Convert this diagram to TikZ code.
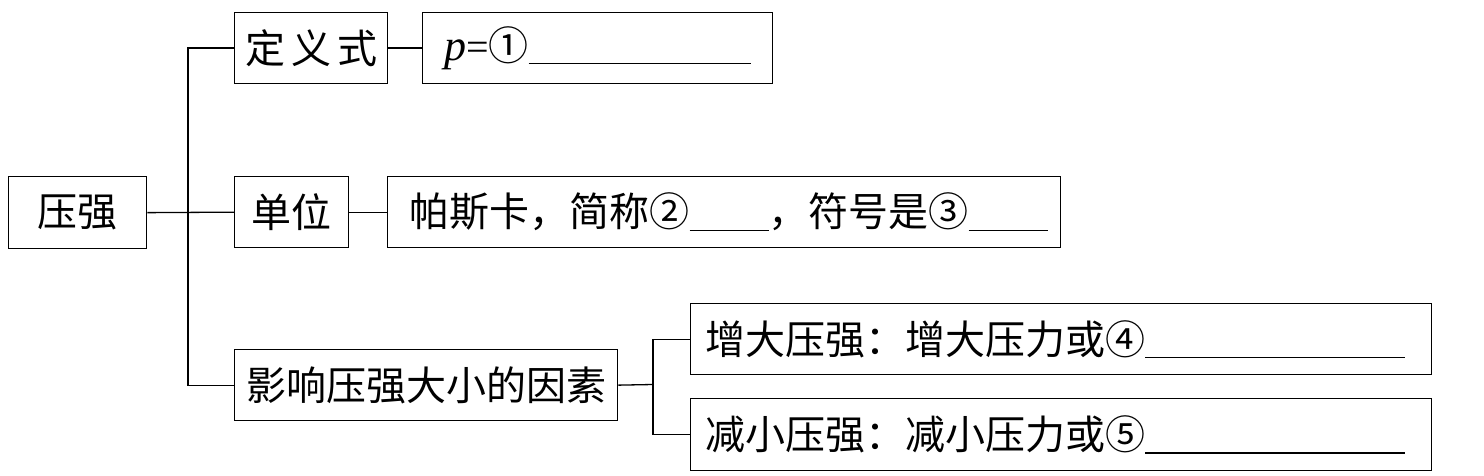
\documentclass[tikz,border=0pt]{standalone}
\usepackage{fontspec}
\newfontfamily\cjk{Noto Sans CJK SC}
\newfontfamily\tms{Liberation Serif}
\newcommand{\blankline}[1]{\rule[-4pt]{#1}{1.2pt}}
\tikzset{
  box/.style={draw, line width=1.3pt, inner sep=0pt, minimum height=71pt, anchor=north west,
    font=\cjk\fontsize{40pt}{45pt}\selectfont},
  lbox/.style={box, align=left},
  conn/.style={line width=1.3pt}
}
\begin{document}
\begin{tikzpicture}[x=1pt,y=-1pt]
\useasboundingbox (0,0) rectangle (1484,476);
\node[box, minimum width=138pt, minimum height=72pt] (yq) at (8,176) {压强};
\node[box, minimum width=153pt] (dy) at (234,12) {定\hspace{6pt}义\hspace{6pt}式};
\node[lbox, minimum width=350pt, text width=335pt, inner xsep=0pt] (pb) at (422,12) {\hspace*{14pt}{\tms\itshape\fontsize{44pt}{45pt}\selectfont p}{\tms =}①\blankline{222pt}};
\node[box, minimum width=114pt] (dw) at (234,176) {单位};
\node[lbox, minimum width=673pt, text width=655pt] (pk) at (387,176) {\hspace*{13pt}帕斯卡，简称②\blankline{79pt}，符号是③\blankline{79pt}};
\node[box, minimum width=383pt] (yx) at (234,349) {影响压强大小的因素};
\node[lbox, minimum width=741pt, text width=730pt] (zd) at (690,303) {\hspace*{9pt}增大压强：增大压力或④\blankline{260pt}};
\node[lbox, minimum width=741pt, text width=730pt, minimum height=72pt] (jx) at (690,398) {\hspace*{9pt}减小压强：减小压力或⑤\blankline{260pt}};
\coordinate (j1) at (188,212);
\coordinate (j2) at (653,384.5);
\draw[conn] (yq.east) -- (dw.west);
\draw[conn] (dy.west) -| (j1) |- (yx.west);
\draw[conn] (dy.east) -- (pb.west);
\draw[conn] (dw.east) -- (pk.west);
\draw[conn] (yx.east) -- (j2);
\draw[conn] (zd.west) -| (j2) |- (jx.west);
\end{tikzpicture}
\end{document}
